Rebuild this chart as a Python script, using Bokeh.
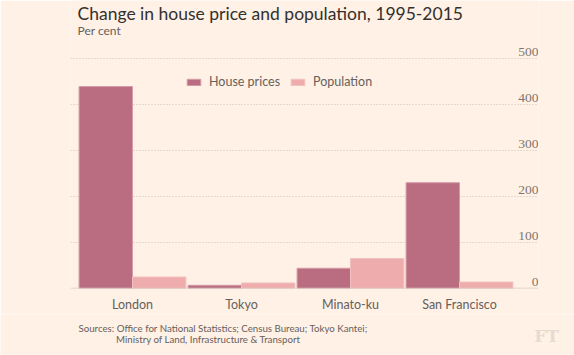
from bokeh.plotting import figure
from bokeh.layouts import column
from bokeh.models import (ColumnDataSource, Legend, LegendItem, Label, LabelSet,
                          FixedTicker, Span, Range1d)
from bokeh.embed import file_html
from bokeh.resources import INLINE

# ---- data ----
cities = ["London", "Tokyo", "Minato-ku", "San Francisco"]
house_prices = [439, 7, 44, 230]
population = [25, 12, 65, 14]
y_ticks = [0, 100, 200, 300, 400, 500]
y_tick_labels = ["0", "100", "200", "300", "400", "500"]

title_text = "Change in house price and population, 1995-2015"
subtitle_text = "Per cent"
source_line1 = "Sources: Office for National Statistics; Census Bureau; Tokyo Kantei;"
source_line2 = "Ministry of Land, Infrastructure & Transport"

# ---- style ----
BG = "#fff1e5"
C_HOUSE = "#ba6c80"
C_POP = "#eeacac"
FONT = "Lato"
W = 574
H_MAIN, H_FOOT = 314, 41
FL, FR, FB = 70, 538, 288          # frame left / right / bottom (px), frame top = 0
PITCH, CX0 = 109.0, 132.0          # px per category, px of first category centre
PX_PER_UNIT = 0.46                 # px per percentage point

def xd(px):
    return (px - CX0) / PITCH

def yd(py):
    return (FB - py) / PX_PER_UNIT

X0, X1 = xd(FL), xd(FR)
Y0, Y1 = 0, yd(0)

idx = list(range(len(cities)))
bw = 0.49
src = ColumnDataSource(dict(
    xh=[i - bw / 2 for i in idx], xp=[i + bw / 2 for i in idx],
    house=house_prices, pop=population))

p = figure(width=W, height=H_MAIN, x_range=(X0, X1), y_range=(Y0, Y1),
           output_backend="svg", toolbar_location=None,
           min_border_left=FL, min_border_right=W - FR, min_border_top=0,
           min_border_bottom=H_MAIN - FB)
p.background_fill_color = BG
p.border_fill_color = BG
p.outline_line_color = None
p.frame_align = False

rh = p.vbar(x="xh", top="house", width=bw, source=src, fill_color=C_HOUSE,
            line_color="#d49aa8", line_width=1)
rp = p.vbar(x="xp", top="pop", width=bw, source=src, fill_color=C_POP,
            line_color="#f2c0bf", line_width=1)

# axes / grid
p.yaxis.visible = False
p.yaxis.ticker = FixedTicker(ticks=y_ticks[1:])
p.ygrid.ticker = FixedTicker(ticks=y_ticks[1:])
p.ygrid.grid_line_color = "#c9c0b8"
p.ygrid.grid_line_dash = "1 2"
p.xgrid.visible = False
p.xaxis.ticker = FixedTicker(ticks=idx, minor_ticks=[])
p.xaxis.major_label_overrides = {i: c for i, c in enumerate(cities)}
p.xaxis.axis_line_color = None
p.xaxis.major_tick_line_color = None
p.xaxis.minor_tick_line_color = None
p.xaxis.major_tick_out = 0
p.xaxis.minor_tick_out = 0
p.xaxis.major_label_standoff = 8
p.xaxis.major_label_text_font = FONT
p.xaxis.major_label_text_font_size = "12.5px"
p.xaxis.major_label_text_color = "#66605c"

p.add_layout(Span(location=0, dimension="width", line_color="#d6ccc2", line_width=1.5))

# y tick labels inside the plot, right aligned above gridlines
tsrc = ColumnDataSource(dict(x=[X1] * len(y_ticks), y=y_ticks, t=y_tick_labels))
p.add_layout(LabelSet(x="x", y="y", text="t", source=tsrc, text_align="right",
                      text_baseline="middle", y_offset=6.5, text_font=FONT,
                      text_font_size="13.5px", text_color="#7d7670"))

# legend
legend = Legend(items=[LegendItem(label="House prices", renderers=[rh]),
                       LegendItem(label="Population", renderers=[rp])],
                orientation="horizontal", location=(115, 199),
                background_fill_alpha=0, border_line_color=None,
                padding=0, margin=0, spacing=9, label_standoff=7,
                glyph_width=17, glyph_height=8,
                label_text_font=FONT, label_text_font_size="12.5px",
                label_text_color="#66605c")
p.add_layout(legend)

# title and subtitle (inside the frame area, which reaches the top edge)
p.add_layout(Label(x=xd(77), y=yd(13), text=title_text, text_font=FONT,
                   text_font_size="17.5px", text_color="#33302e",
                   text_baseline="middle"))
p.add_layout(Label(x=xd(77), y=yd(30), text=subtitle_text, text_font=FONT,
                   text_font_size="12px", text_color="#66605c",
                   text_baseline="middle"))

# ---- footer ----
f = figure(width=W, height=H_FOOT, x_range=Range1d(0, W), y_range=Range1d(H_FOOT, 0),
           output_backend="svg", toolbar_location=None,
           x_axis_location=None, y_axis_location=None,
           min_border_left=0, min_border_right=0, min_border_top=0, min_border_bottom=0)
f.background_fill_color = BG
f.border_fill_color = BG
f.outline_line_color = None
f.xgrid.visible = False
f.ygrid.visible = False
f.frame_align = False

def foot_label(text, px, py, size, color, font=FONT, style="normal", align="left"):
    f.add_layout(Label(x=px, y=py - H_MAIN, text=text, text_font=font,
                       text_font_size=size, text_color=color, text_font_style=style,
                       text_align=align, text_baseline="middle"))

foot_label(source_line1, 78, 327.5, "9.7px", "#66605c")
foot_label(source_line2, 115.5, 338.5, "9.7px", "#66605c")
foot_label("FT", 546, 335, "17px", "#e6dbd1", font="DejaVu Serif", style="bold", align="center")

layout = column(p, f, spacing=0)
open("out.html", "w").write(file_html(layout, INLINE))
